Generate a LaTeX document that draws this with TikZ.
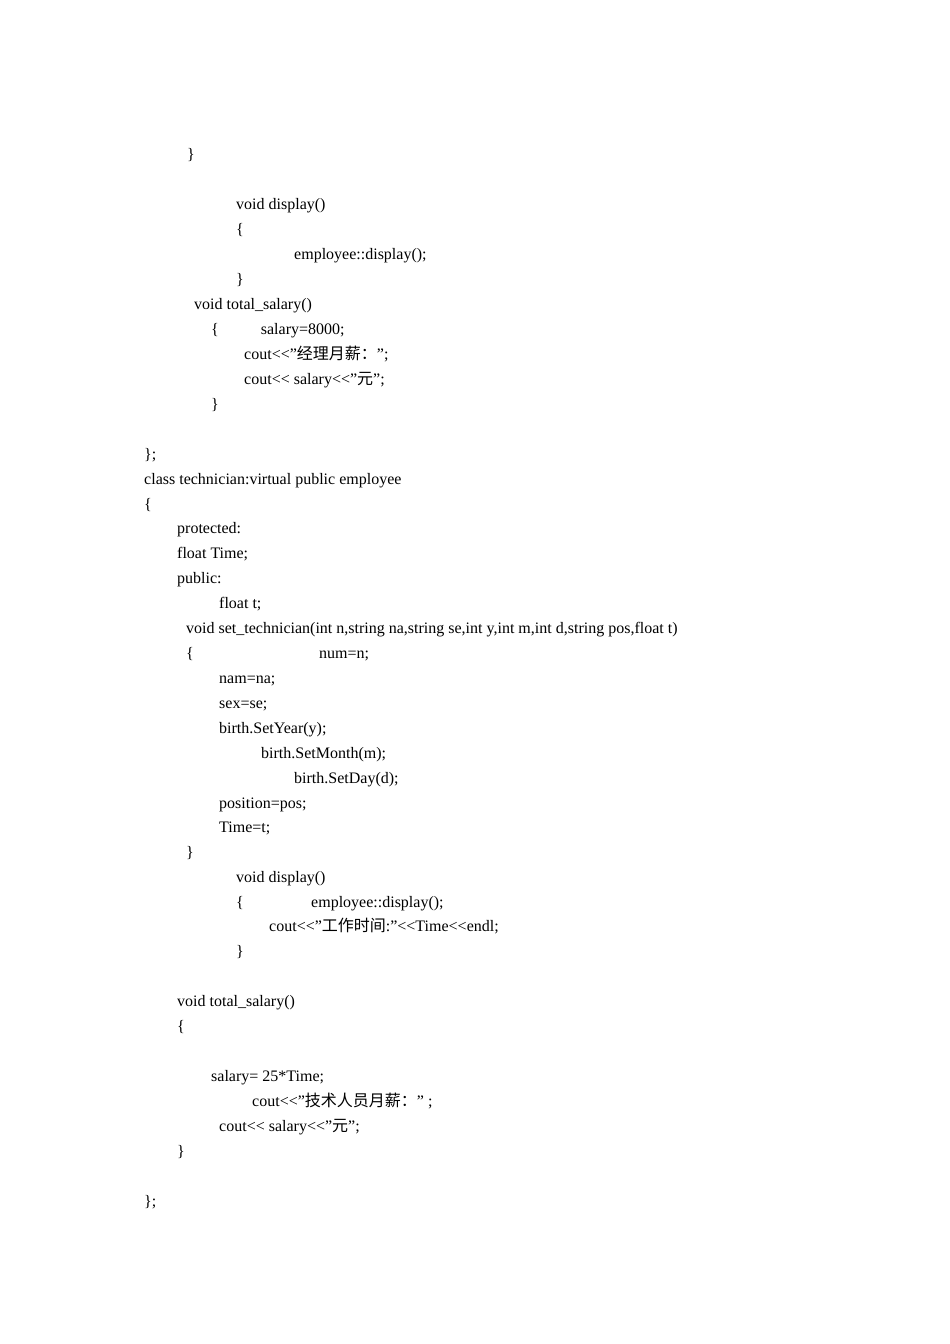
\documentclass[tikz,border=0pt]{standalone}
\usepackage{fontspec}
\setmainfont{Liberation Serif}
\newfontfamily\cjk{Noto Sans CJK SC}
\begin{document}
\begin{tikzpicture}[x=1pt,y=-1pt,every node/.style={anchor=base west,inner sep=0pt,font=\fontsize{16}{19}\selectfont}]
\useasboundingbox[fill=white] (0,0) rectangle (950,1344);
\def\L#1#2#3{\node at (#1,#2+6) {#3};}
\L{187}{153}{\}}
\L{236}{203}{void display()}
\L{236}{228}{\{}
\L{294}{253}{employee::display();}
\L{236}{278}{\}}
\L{194}{303}{void total\_salary()}
\L{211}{328}{\{\hspace{42pt}salary=8000;}
\L{244}{353}{cout<{}<"{\cjk 经理月薪：}";}
\L{244}{378}{cout<{}< salary<{}<"{\cjk 元}";}
\L{211}{403}{\}}
\L{144}{453}{\};}
\L{144}{478}{class technician:virtual public employee}
\L{144}{503}{\{}
\L{177}{527}{protected:}
\L{177}{552}{float Time;}
\L{177}{577}{public:}
\L{219}{602}{float t;}
\L{186}{627}{void set\_technician(int n,string na,string se,int y,int m,int d,string pos,float t)}
\L{186}{652}{\{}
\L{319}{652}{num=n;}
\L{219}{677}{nam=na;}
\L{219}{702}{sex=se;}
\L{219}{727}{birth.SetYear(y);}
\L{261}{752}{birth.SetMonth(m);}
\L{294}{777}{birth.SetDay(d);}
\L{219}{802}{position=pos;}
\L{219}{826}{Time=t;}
\L{186}{851}{\}}
\L{236}{876}{void display()}
\L{236}{901}{\{}
\L{311}{901}{employee::display();}
\L{269}{925}{cout<{}<"{\cjk 工作时间}:"<{}<Time<{}<endl;}
\L{236}{950}{\}}
\L{177}{1000}{void total\_salary()}
\L{177}{1025}{\{}
\L{211}{1075}{salary= 25*Time;}
\L{252}{1100}{cout<{}<"{\cjk 技术人员月薪：}" ;}
\L{219}{1125}{cout<{}< salary<{}<"{\cjk 元}";}
\L{177}{1150}{\}}
\L{144}{1200}{\};}
\end{tikzpicture}
\end{document}
